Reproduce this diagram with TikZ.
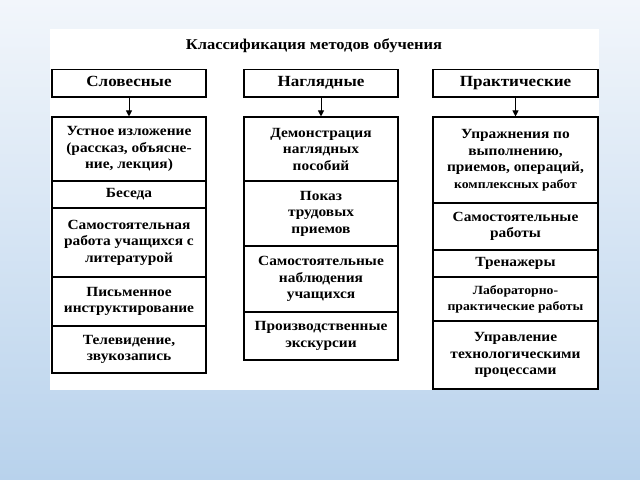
\documentclass[tikz,border=0pt]{standalone}
\usepackage{fontspec}
\setmainfont{Liberation Serif}[FakeStretch=1.1]
\usetikzlibrary{arrows.meta}
\definecolor{bgtop}{RGB}{242,246,251}
\definecolor{bgbot}{RGB}{184,210,236}
\begin{document}
\begin{tikzpicture}[x=1bp,y=-1bp,
  box/.style={draw, line width=1.1bp, align=center, inner sep=0pt,
    font=\bfseries\fontsize{14bp}{16.5bp}\selectfont},
  head/.style={box, line width=1.5bp, font=\bfseries\fontsize{15.5bp}{17bp}\selectfont},
  arr/.style={line width=1bp, -{Triangle[width=6bp,length=6bp]}}]
\useasboundingbox (0,0) rectangle (640,480);
\shade[top color=bgtop, bottom color=bgbot] (0,0) rectangle (640,480);
\fill[white] (50,29) rectangle (599,390);
\node[font=\bfseries\fontsize{15bp}{17bp}\selectfont] (title) at (314,46) {Классификация методов обучения};
% headers
\node[head, minimum width=154bp, minimum height=27.5bp] (h1) at (129,83.25) {Словесные\strut};
\node[head, minimum width=154bp, minimum height=27.5bp] (h2) at (321,83.25) {Наглядные\strut};
\node[head, minimum width=165bp, minimum height=27.5bp] (h3) at (515.5,83.25) {Практические\strut};
% left column
\node[box, minimum width=154bp, minimum height=64bp] (l1) at (129,149) {Устное изложение\\(рассказ, объясне-\\ние, лекция)};
\node[box, minimum width=154bp, minimum height=27bp] (l2) at (129,194.5) {Беседа\strut};
\node[box, minimum width=154bp, minimum height=69bp] (l3) at (129,242.5) {Самостоятельная\\работа учащихся с\\литературой};
\node[box, minimum width=154bp, minimum height=49bp] (l4) at (129,301.5) {Письменное\\инструктирование};
\node[box, minimum width=154bp, minimum height=47bp] (l5) at (129,349.5) {Телевидение,\\звукозапись};
% middle column
\node[box, minimum width=154bp, minimum height=64bp] (m1) at (321,149) {Демонстрация\\наглядных\\пособий};
\node[box, minimum width=154bp, minimum height=65bp] (m2) at (321,213.5) {Показ\\трудовых\\приемов};
\node[box, minimum width=154bp, minimum height=66bp] (m3) at (321,279) {Самостоятельные\\наблюдения\\учащихся};
\node[box, minimum width=154bp, minimum height=48bp] (m4) at (321,336) {Производственные\\экскурсии};
% right column
\node[box, minimum width=165bp, minimum height=86bp] (r1) at (515.5,160) {Упражнения по\\выполнению,\\приемов, операций,\\{\fontsize{12.5bp}{16bp}\selectfont комплексных работ}};
\node[box, minimum width=165bp, minimum height=47bp] (r2) at (515.5,226.5) {Самостоятельные\\работы};
\node[box, minimum width=165bp, minimum height=27bp] (r3) at (515.5,263.5) {Тренажеры\strut};
\node[box, minimum width=165bp, minimum height=44bp, font=\bfseries\fontsize{12.5bp}{16bp}\selectfont] (r4) at (515.5,299) {Лабораторно-\\практические работы};
\node[box, minimum width=165bp, minimum height=68bp] (r5) at (515.5,355) {Управление\\технологическими\\процессами};
% arrows
\draw[arr] (h1) -- (l1);
\draw[arr] (h2) -- (m1);
\draw[arr] (h3) -- (r1);
\end{tikzpicture}
\end{document}
